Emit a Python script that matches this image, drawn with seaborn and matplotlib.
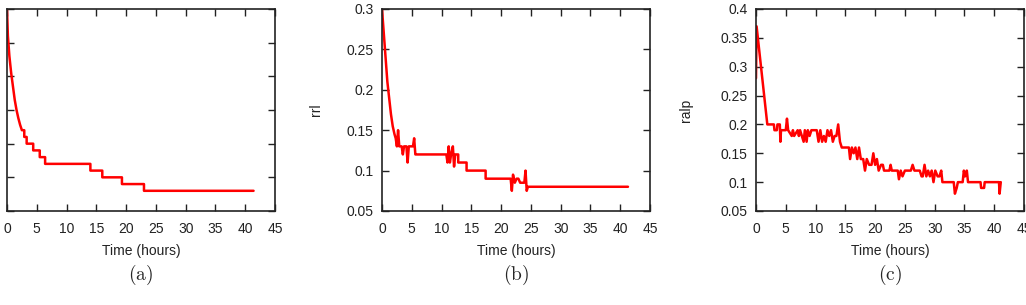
import numpy as np
import pandas as pd
import matplotlib
matplotlib.use("Agg")
import matplotlib.pyplot as plt
import seaborn as sns

# (a) time in hours and value
a_t = [0, 0.15, 0.4, 0.7, 1.0, 1.3, 1.6, 1.9, 2.2, 2.5, 2.9, 2.9, 3.3, 3.3,
       4.4, 4.4, 5.5, 5.5, 6.4, 6.4, 14.0, 14.0, 16.0, 16.0, 19.3, 19.3,
       23.0, 23.0, 41.4]
a_v = [0.35, 0.31, 0.28, 0.255, 0.235, 0.215, 0.2, 0.188, 0.178, 0.17, 0.17, 0.16, 0.16, 0.15,
       0.15, 0.14, 0.14, 0.13, 0.13, 0.12, 0.12, 0.11, 0.11, 0.10, 0.10, 0.09,
       0.09, 0.08, 0.08]

# (b) rrl
b_t = [0, 0.3, 0.6, 0.9, 1.2, 1.5, 1.8, 2.1, 2.3, 2.5,
       2.7, 2.9, 3.3, 3.5, 3.7, 4.1, 4.3, 4.5, 5.2, 5.4,
       5.6, 5.8, 10.8, 11.0, 11.2, 11.4, 11.6, 11.9, 12.1, 12.3,
       12.8, 12.8, 14.2, 14.2, 17.4, 17.4, 21.6, 21.8, 22.0, 22.3,
       22.6, 22.9, 23.2, 23.9, 24.1, 24.3, 24.5, 41.3]
b_v = [0.30, 0.27, 0.24, 0.21, 0.19, 0.17, 0.155, 0.145, 0.14, 0.13,
       0.15, 0.13, 0.13, 0.12, 0.13, 0.13, 0.11, 0.13, 0.13, 0.14,
       0.12, 0.12, 0.12, 0.11, 0.13, 0.11, 0.12, 0.13, 0.105, 0.12,
       0.12, 0.11, 0.11, 0.10, 0.10, 0.09, 0.09, 0.075, 0.095, 0.085,
       0.09, 0.09, 0.085, 0.085, 0.10, 0.075, 0.08, 0.08]

# (c) ralp
c_t = [0, 0.1, 1.9,
       3.0, 3.1, 3.5, 3.6, 4.0, 4.1, 4.2,
       5.0, 5.2, 5.4, 6.0, 6.2, 6.4, 7.0, 7.2, 7.4, 8.0, 8.2, 8.5, 8.7, 9.0, 9.3, 10.2,
       10.5, 10.8, 11.1, 11.4, 11.7, 12.0, 12.3, 12.6, 12.9, 13.2, 13.5, 13.8, 14.1, 14.4,
       15.6, 15.8, 16.1, 16.4, 16.7, 17.0, 17.3, 17.6, 18.0, 18.3, 18.6, 19.0, 19.4, 19.7, 20.0, 20.3, 20.6, 21.0, 21.3,
       21.5, 22.4, 22.6, 22.8, 23.8, 24.0, 24.3, 24.6, 25.0, 26.0, 26.3, 26.6, 27.5, 27.8,
       28.0, 28.3, 28.6, 28.9, 29.2, 29.5, 29.8, 30.1, 30.5, 30.8, 31.1, 31.3,
       33.2, 33.4, 33.7, 33.9, 34.7, 34.9, 35.1, 35.4, 35.6, 37.7, 37.8, 38.3, 38.4, 40.8, 40.9, 41.1]
c_v = [0.28, 0.37, 0.20,
       0.20, 0.19, 0.19, 0.20, 0.20, 0.17, 0.19,
       0.19, 0.21, 0.19, 0.18, 0.19, 0.18, 0.19, 0.18, 0.19, 0.17, 0.19, 0.17, 0.19, 0.18, 0.19, 0.19,
       0.17, 0.19, 0.17, 0.18, 0.17, 0.19, 0.18, 0.19, 0.17, 0.18, 0.18, 0.20, 0.17, 0.16,
       0.16, 0.14, 0.16, 0.15, 0.16, 0.14, 0.16, 0.14, 0.14, 0.12, 0.14, 0.13, 0.13, 0.15, 0.13, 0.14, 0.12, 0.13, 0.13,
       0.12, 0.12, 0.13, 0.12, 0.12, 0.105, 0.12, 0.11, 0.12, 0.12, 0.13, 0.12, 0.12, 0.11,
       0.11, 0.13, 0.11, 0.12, 0.11, 0.12, 0.10, 0.12, 0.11, 0.11, 0.12, 0.10,
       0.10, 0.08, 0.09, 0.10, 0.10, 0.12, 0.11, 0.12, 0.10, 0.10, 0.09, 0.09, 0.10, 0.10, 0.08, 0.10]

x_ticks = [0, 5, 10, 15, 20, 25, 30, 35, 40, 45]

sns.set_style("ticks")
plt.rcParams["font.family"] = ["Liberation Sans", "DejaVu Sans"]
plt.rcParams["mathtext.fontset"] = "cm"

fig = plt.figure(figsize=(10.26, 3.05), dpi=100)
W, H = 1026, 305

panels = [
    # left px, data, ylim, yticks, ylabel, show labels, labelpad, caption
    (7, a_t, a_v, (0.05, 0.35), np.arange(0.05, 0.36, 0.05), "", False, 0, "(a)"),
    (382, b_t, b_v, (0.05, 0.30), [0.05, 0.1, 0.15, 0.2, 0.25, 0.3], "rrl", True, 17, "(b)"),
    (756, c_t, c_v, (0.05, 0.40), [0.05, 0.1, 0.15, 0.2, 0.25, 0.3, 0.35, 0.4], "ralp", True, 20, "(c)"),
]
ylabels = {0.05: "0.05", 0.1: "0.1", 0.15: "0.15", 0.2: "0.2", 0.25: "0.25",
           0.3: "0.3", 0.35: "0.35", 0.4: "0.4"}

for left, t, v, ylim, yt, ylab, show, lp, cap in panels:
    ax = fig.add_axes([left / W, (H - 211) / H, 268 / W, 202 / H])
    df = pd.DataFrame({"t": t, "v": v})
    sns.lineplot(data=df, x="t", y="v", ax=ax, estimator=None, sort=False,
                 color="#ff0000", linewidth=1.8)
    ax.set_xlim(0, 45)
    ax.set_ylim(*ylim)
    ax.set_xticks(x_ticks)
    ax.set_xticklabels([str(x) for x in x_ticks])
    ax.set_yticks(yt)
    if show:
        ax.set_yticklabels([ylabels[round(y, 2)] for y in yt])
    else:
        ax.set_yticklabels([])
    ax.tick_params(direction="in", top=True, right=True, length=5, width=1.0,
                   labelsize=10, colors="#222222", pad=6)
    ax.tick_params(axis="x", pad=8)
    for s in ax.spines.values():
        s.set_linewidth(1.2)
        s.set_color("#222222")
    ax.set_xlabel("Time (hours)", fontsize=10, color="#222222", labelpad=6)
    ax.set_ylabel(ylab, fontsize=10, color="#222222", labelpad=lp)
    fig.text((left + 134) / W, 1 - 275 / H, r"$\mathrm{" + cap + "}$",
             ha="center", va="center", fontsize=14)

fig.savefig("out.png", dpi=100)
